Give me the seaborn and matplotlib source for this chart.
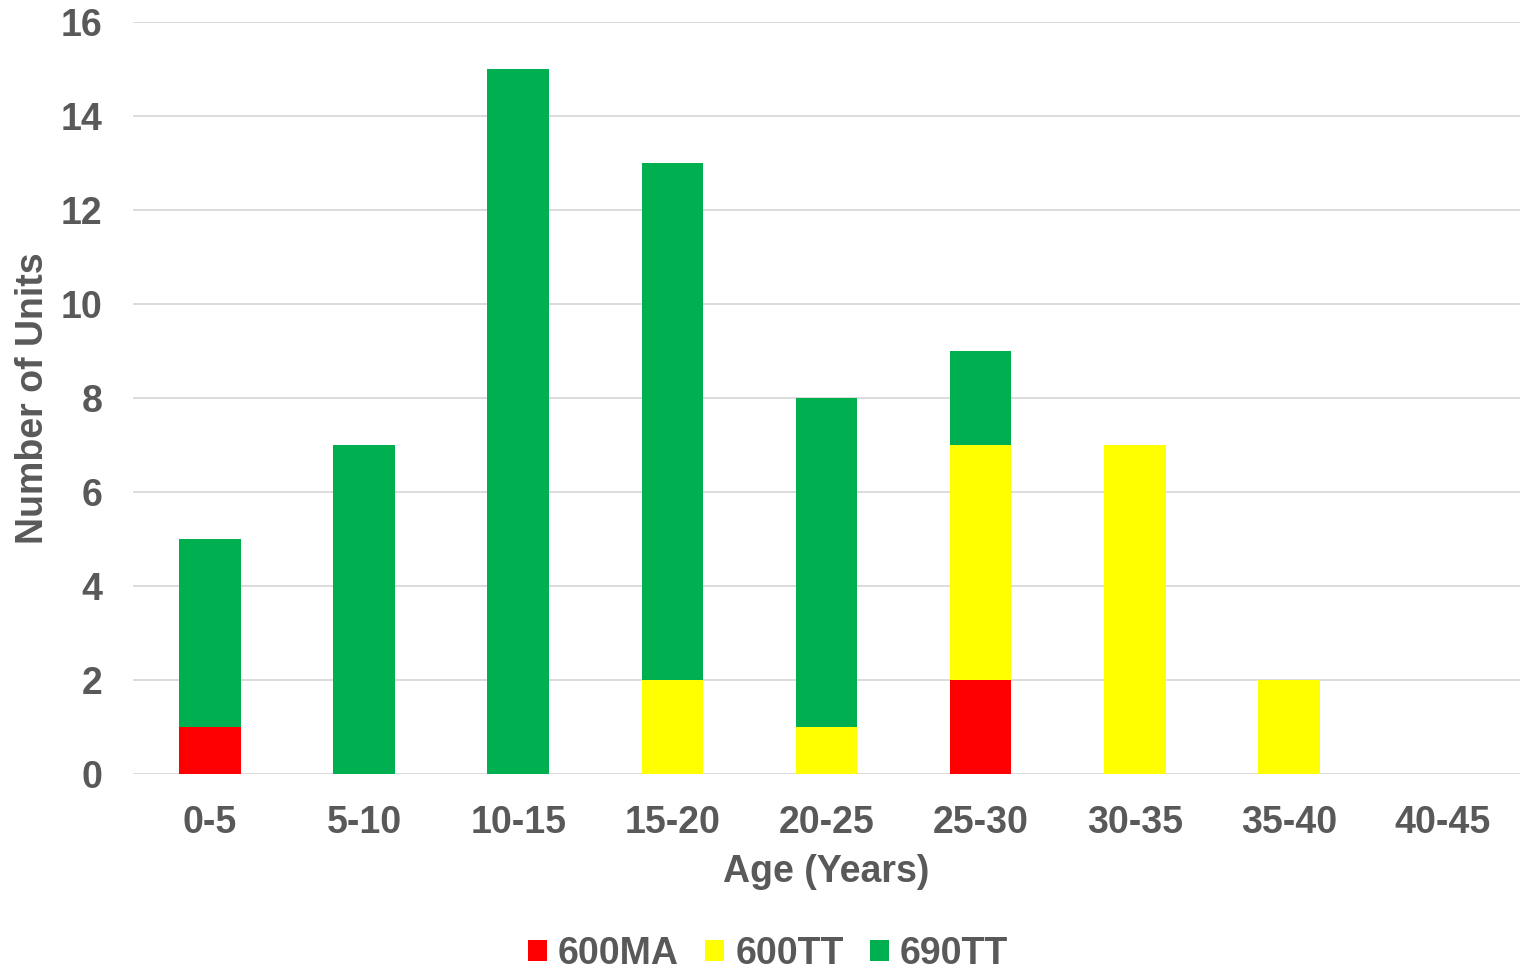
import matplotlib
matplotlib.use("Agg")
import matplotlib.pyplot as plt
from matplotlib.patches import Patch
import numpy as np
import seaborn as sns

# Unit counts per age bracket, by model
ages = ["0-5", "5-10", "10-15", "15-20", "20-25", "25-30", "30-35", "35-40", "40-45"]
units_600ma = [1, 0, 0, 0, 0, 2, 0, 0, 0]
units_600tt = [0, 0, 0, 2, 1, 5, 7, 2, 0]
units_690tt = [4, 7, 15, 11, 7, 2, 0, 0, 0]
series_names = ["600MA", "600TT", "690TT"]
yticks = [0, 2, 4, 6, 8, 10, 12, 14, 16]

colors = {"600MA": "#FF0000", "600TT": "#FFFF00", "690TT": "#00B050"}
text_color = "#595959"
grid_color = "#D9D9D9"
fs = 27

sns.set_theme(style="white")
plt.rcParams["font.family"] = ["Liberation Sans", "DejaVu Sans"]
plt.rcParams["font.weight"] = "bold"

fig = plt.figure(figsize=(15.22, 9.69), dpi=100)
ax = fig.add_axes([133 / 1522, 1 - 774 / 969, (1520 - 133) / 1522, (774 - 22) / 969])

# Stacked bars: draw cumulative totals from the top segment down
red = np.array(units_600ma)
yellow = np.array(units_600tt)
green = np.array(units_690tt)
layers = [
    ("690TT", red + yellow + green),
    ("600TT", red + yellow),
    ("600MA", red),
]
for name, heights in layers:
    sns.barplot(x=ages, y=heights, order=ages, color=colors[name],
                width=0.4, saturation=1, linewidth=0, ax=ax, zorder=3)

ax.set_xlim(-0.5, len(ages) - 0.5)
ax.set_ylim(0, 16)
ax.set_yticks(yticks)
ax.set_yticklabels([str(t) for t in yticks])
for y in yticks:
    ax.axhline(y, color=grid_color, linewidth=1.3, zorder=1)

for s in ax.spines.values():
    s.set_visible(False)

ax.tick_params(axis="both", length=0, labelsize=fs, labelcolor=text_color)
ax.tick_params(axis="y", pad=22)
ax.tick_params(axis="x", pad=22)
for lbl in ax.get_xticklabels() + ax.get_yticklabels():
    lbl.set_fontweight("bold")

ax.set_xlabel("Age (Years)", fontsize=fs, fontweight="bold", color=text_color)
ax.set_ylabel("Number of Units", fontsize=fs, fontweight="bold", color=text_color)
ax.xaxis.set_label_coords(0.5, -0.106)
ax.yaxis.set_label_coords(-0.059, 0.5)

handles = [Patch(facecolor=colors[n], edgecolor="none", label=n) for n in series_names]
leg = fig.legend(handles=handles, loc="center", bbox_to_anchor=(768 / 1522, 1 - 954 / 969),
                 ncol=3, frameon=False, prop={"size": fs, "weight": "bold"},
                 handlelength=0.5, handleheight=0.5,
                 handletextpad=0.3, columnspacing=0.7)
for t in leg.get_texts():
    t.set_color(text_color)

fig.savefig("out.png", dpi=100)
